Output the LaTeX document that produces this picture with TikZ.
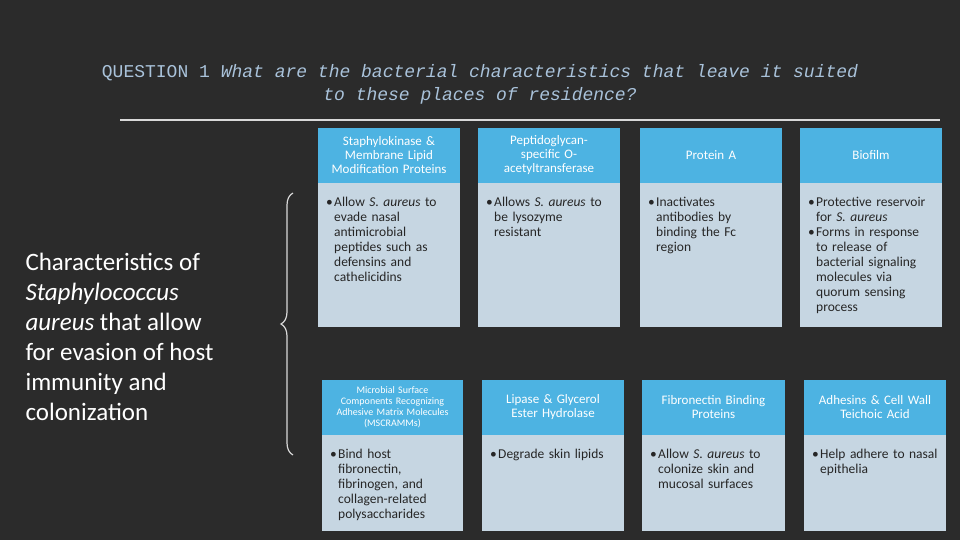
\documentclass[tikz,border=0pt]{standalone}
\usepackage{fontspec}
\setmainfont{Carlito}
\newfontfamily\monof{Liberation Mono}
\usetikzlibrary{decorations.pathreplacing}
\definecolor{bg}{HTML}{2B2B2B}
\definecolor{hdr}{HTML}{4DB3E2}
\definecolor{bod}{HTML}{C6D6E2}
\definecolor{ttl}{HTML}{A9C2DA}
\newcommand{\bl}[1]{\par\leftskip=8pt\noindent\hspace*{-8pt}\makebox[8pt][l]{\textbullet}#1\par}
\newcommand{\cardt}[9]{%
 \fill[hdr] (#1,#2) rectangle (#3,#4);
 \fill[bod] (#1,#4) rectangle (#3,#5);
 \node[text=white,align=center,text width=#3-#1-8pt,font=\fontsize{#8pt}{\dimexpr#8pt+1pt\relax}\selectfont] (#9h) at ({(#1+#3)/2},{(#2+#4)/2}) {#6};
 \node[anchor=north west,text width=#3-#1-16pt,font=\fontsize{13.5pt}{15pt}\selectfont,text=black!85,inner sep=0pt] (#9b) at (#1+8,#4+8) {\raggedright\hyphenpenalty=10000 #7};}
\begin{document}
\begin{tikzpicture}[x=1pt,y=-1pt]
\fill[bg] (0,0) rectangle (960,540);
\useasboundingbox (0,0) rectangle (960,540);
\node[text=ttl,align=center,font=\monof\fontsize{18pt}{23pt}\selectfont] (title) at (480,84) {QUESTION 1 \textit{What are the bacterial characteristics that leave it suited}\\\textit{to these places of residence?}};
\draw[white!85!black,line width=1.5pt] (120,120) -- (940,120);
\node[anchor=north west,text=white,align=left,font=\fontsize{25pt}{30pt}\selectfont] (left) at (22,250) {Characteristics of\\\textit{Staphylococcus}\\\textit{aureus} that allow\\for evasion of host\\immunity and\\colonization};
\coordinate (b1) at (293,455);
\coordinate (b2) at (293,193);
\draw[white!85!black,line width=1.2pt,decorate,decoration={brace,amplitude=12pt}] (b1) -- (b2);
\cardt{318}{128}{460}{183}{327}{Staphylokinase \&\\Membrane Lipid\\Modification Proteins}{\bl{Allow \textit{S. aureus} to evade nasal antimicrobial peptides such as defensins and cathelicidins}}{13}{c1}
\cardt{478}{128}{620}{183}{327}{Peptidoglycan-\\specific O-\\acetyltransferase}{\bl{Allows \textit{S. aureus} to be lysozyme resistant}}{13}{c2}
\cardt{640}{128}{782}{183}{327}{Protein A}{\bl{Inactivates antibodies by binding the Fc region}}{13}{c3}
\cardt{800}{128}{942}{183}{327}{Biofilm}{\bl{Protective reservoir for \textit{S. aureus}}\bl{Forms in response to release of bacterial signaling molecules via quorum sensing process}}{13}{c4}
\cardt{322}{380}{463}{435}{531}{Microbial Surface\\Components Recognizing\\Adhesive Matrix Molecules\\(MSCRAMMs)}{\bl{Bind host fibronectin, fibrinogen, and collagen-related polysaccharides}}{10}{c5}
\cardt{482}{380}{624}{435}{531}{Lipase \& Glycerol\\Ester Hydrolase}{\bl{Degrade skin lipids}}{13}{c6}
\cardt{642}{380}{785}{435}{531}{Fibronectin Binding\\Proteins}{\bl{Allow \textit{S. aureus} to colonize skin and mucosal surfaces}}{13}{c7}
\cardt{804}{380}{946}{435}{531}{Adhesins \& Cell Wall\\Teichoic Acid}{\bl{Help adhere to nasal epithelia}}{13}{c8}
\end{tikzpicture}
\end{document}
